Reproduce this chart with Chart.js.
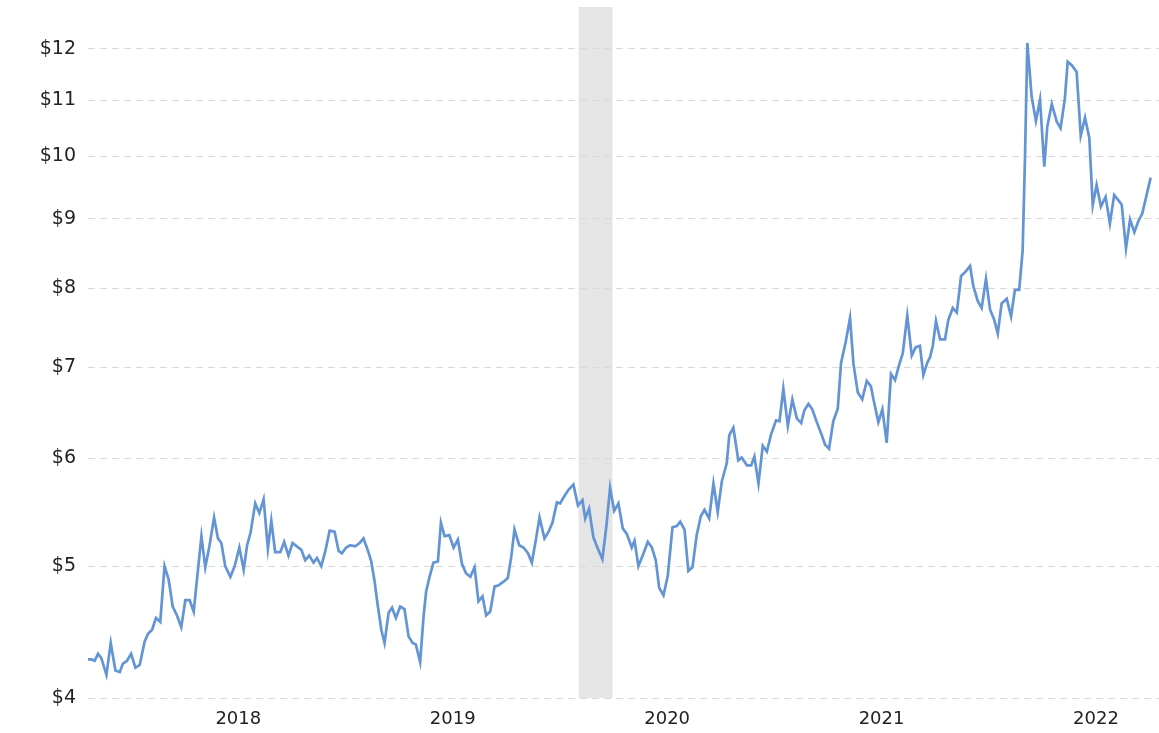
<!DOCTYPE html>
<html>
<head>
<meta charset="utf-8">
<title>Price chart</title>
<script src="https://cdn.jsdelivr.net/npm/chart.js@4.4.1/dist/chart.umd.min.js"></script>
<style>
  html, body { margin: 0; padding: 0; background: #fff; }
  #wrap { width: 1159px; height: 733px; position: relative; }
</style>
</head>
<body>
<div id="wrap"><canvas id="chart"></canvas></div>
<script>
// weekly observations, x as decimal year
const years = [
  2017.299, 2017.315, 2017.330, 2017.346, 2017.361, 2017.385, 2017.405, 2017.427, 2017.447, 2017.462,
  2017.481, 2017.500, 2017.520, 2017.540, 2017.563, 2017.579, 2017.598, 2017.616, 2017.636, 2017.656,
  2017.675, 2017.694, 2017.714, 2017.734, 2017.753, 2017.773, 2017.792, 2017.812, 2017.828, 2017.846,
  2017.866, 2017.887, 2017.905, 2017.921, 2017.939, 2017.963, 2017.983, 2018.005, 2018.025, 2018.041,
  2018.057, 2018.079, 2018.098, 2018.118, 2018.138, 2018.154, 2018.172, 2018.196, 2018.214, 2018.234,
  2018.253, 2018.273, 2018.294, 2018.312, 2018.331, 2018.351, 2018.367, 2018.387, 2018.406, 2018.426,
  2018.449, 2018.468, 2018.483, 2018.503, 2018.522, 2018.545, 2018.566, 2018.584, 2018.605, 2018.620,
  2018.635, 2018.651, 2018.667, 2018.682, 2018.701, 2018.717, 2018.735, 2018.755, 2018.775, 2018.794,
  2018.813, 2018.828, 2018.848, 2018.864, 2018.876, 2018.892, 2018.910, 2018.931, 2018.945, 2018.962,
  2018.984, 2019.004, 2019.024, 2019.043, 2019.062, 2019.082, 2019.102, 2019.120, 2019.139, 2019.156,
  2019.175, 2019.195, 2019.214, 2019.237, 2019.257, 2019.273, 2019.288, 2019.310, 2019.330, 2019.351,
  2019.369, 2019.388, 2019.405, 2019.428, 2019.447, 2019.465, 2019.486, 2019.501, 2019.521, 2019.540,
  2019.563, 2019.584, 2019.605, 2019.618, 2019.636, 2019.656, 2019.677, 2019.698, 2019.716, 2019.734,
  2019.753, 2019.773, 2019.793, 2019.812, 2019.835, 2019.848, 2019.866, 2019.890, 2019.910, 2019.929,
  2019.947, 2019.963, 2019.983, 2020.003, 2020.025, 2020.045, 2020.061, 2020.081, 2020.099, 2020.118,
  2020.138, 2020.157, 2020.174, 2020.196, 2020.216, 2020.236, 2020.255, 2020.278, 2020.290, 2020.309,
  2020.332, 2020.348, 2020.372, 2020.392, 2020.407, 2020.426, 2020.446, 2020.465, 2020.485, 2020.508,
  2020.524, 2020.542, 2020.563, 2020.584, 2020.605, 2020.625, 2020.640, 2020.659, 2020.677, 2020.698,
  2020.718, 2020.737, 2020.755, 2020.775, 2020.796, 2020.811, 2020.833, 2020.853, 2020.869, 2020.889,
  2020.910, 2020.931, 2020.950, 2020.966, 2020.985, 2021.004, 2021.024, 2021.044, 2021.063, 2021.082,
  2021.099, 2021.120, 2021.141, 2021.159, 2021.179, 2021.195, 2021.214, 2021.226, 2021.239, 2021.254,
  2021.273, 2021.296, 2021.311, 2021.332, 2021.351, 2021.371, 2021.389, 2021.413, 2021.428, 2021.449,
  2021.467, 2021.487, 2021.506, 2021.525, 2021.542, 2021.560, 2021.584, 2021.604, 2021.622, 2021.642,
  2021.658, 2021.669, 2021.680, 2021.700, 2021.720, 2021.739, 2021.759, 2021.773, 2021.794, 2021.817,
  2021.835, 2021.855, 2021.868, 2021.887, 2021.910, 2021.929, 2021.949, 2021.969, 2021.985, 2022.003,
  2022.023, 2022.045, 2022.065, 2022.085, 2022.104, 2022.120, 2022.140, 2022.159, 2022.179, 2022.197,
  2022.216, 2022.255
];

const prices = [
  4.27, 4.27, 4.26, 4.31, 4.28, 4.16, 4.39, 4.19, 4.18, 4.24,
  4.26, 4.31, 4.21, 4.23, 4.40, 4.46, 4.49, 4.58, 4.55, 5.00,
  4.89, 4.67, 4.60, 4.51, 4.72, 4.72, 4.63, 4.97, 5.26, 4.99,
  5.18, 5.43, 5.24, 5.20, 5.00, 4.91, 5.00, 5.16, 4.97, 5.18,
  5.29, 5.56, 5.47, 5.60, 5.15, 5.40, 5.12, 5.12, 5.21, 5.09,
  5.20, 5.17, 5.14, 5.05, 5.09, 5.03, 5.07, 5.00, 5.13, 5.31,
  5.30, 5.13, 5.11, 5.16, 5.18, 5.17, 5.20, 5.24, 5.13, 5.04,
  4.88, 4.67, 4.49, 4.39, 4.62, 4.66, 4.58, 4.67, 4.65, 4.44,
  4.39, 4.38, 4.25, 4.59, 4.79, 4.91, 5.03, 5.04, 5.38, 5.26,
  5.27, 5.16, 5.23, 5.02, 4.94, 4.91, 4.99, 4.71, 4.75, 4.60,
  4.63, 4.83, 4.84, 4.87, 4.90, 5.08, 5.32, 5.18, 5.16, 5.11,
  5.03, 5.23, 5.43, 5.24, 5.30, 5.38, 5.57, 5.56, 5.63, 5.69,
  5.74, 5.54, 5.59, 5.42, 5.51, 5.25, 5.15, 5.06, 5.34, 5.71,
  5.49, 5.56, 5.33, 5.28, 5.16, 5.22, 5.00, 5.11, 5.21, 5.16,
  5.05, 4.82, 4.76, 4.92, 5.34, 5.35, 5.39, 5.32, 4.96, 4.99,
  5.27, 5.44, 5.50, 5.42, 5.75, 5.48, 5.77, 5.95, 6.24, 6.32,
  5.98, 6.01, 5.93, 5.93, 6.02, 5.75, 6.13, 6.07, 6.25, 6.40,
  6.39, 6.75, 6.34, 6.63, 6.42, 6.37, 6.51, 6.58, 6.52, 6.38,
  6.26, 6.14, 6.10, 6.39, 6.53, 7.05, 7.31, 7.61, 7.04, 6.71,
  6.63, 6.84, 6.78, 6.59, 6.38, 6.52, 6.16, 6.92, 6.85, 7.03,
  7.17, 7.64, 7.14, 7.24, 7.26, 6.91, 7.06, 7.12, 7.26, 7.57,
  7.34, 7.34, 7.58, 7.74, 7.68, 8.17, 8.22, 8.31, 8.03, 7.83,
  7.74, 8.13, 7.72, 7.59, 7.41, 7.80, 7.86, 7.63, 7.98, 7.98,
  8.53, 9.98, 12.12, 11.07, 10.62, 11.01, 9.83, 10.52, 10.93, 10.61,
  10.49, 11.03, 11.74, 11.67, 11.54, 10.36, 10.68, 10.32, 9.21, 9.53,
  9.19, 9.34, 8.93, 9.37, 9.29, 9.22, 8.56, 8.99, 8.80, 8.96,
  9.08, 9.65
];

const yearTicks = [2018, 2019, 2020, 2021, 2022];
const priceTicks = [4, 5, 6, 7, 8, 9, 10, 11, 12];

// grey band
const shadeStart = 2019.587;
const shadeEnd = 2019.745;

const shadePlugin = {
  id: "shade",
  beforeDraw(chart) {
    const { ctx, chartArea, scales } = chart;
    const x1 = scales.x.getPixelForValue(shadeStart);
    const x2 = scales.x.getPixelForValue(shadeEnd);
    ctx.save();
    ctx.fillStyle = "#e5e5e5";
    ctx.fillRect(x1, chartArea.top, x2 - x1, chartArea.bottom - chartArea.top);
    ctx.restore();
  },
};

const points = years.map((yr, i) => ({ x: yr, y: prices[i] }));

new Chart(document.getElementById("chart"), {
  type: "line",
  data: {
    datasets: [
      {
        data: points,
        borderColor: "rgb(99, 148, 212)",
        borderWidth: 2.7,
        pointRadius: 0,
        tension: 0,
        fill: false,
      },
    ],
  },
  options: {
    responsive: true,
    maintainAspectRatio: false,
    animation: false,
    layout: { padding: { top: 7, right: 0, bottom: 0, left: 0 } },
    plugins: {
      legend: { display: false },
      tooltip: { enabled: false },
    },
    scales: {
      x: {
        type: "linear",
        min: 2017.299,
        max: 2022.294,
        afterBuildTicks: (scale) => {
          scale.ticks = yearTicks.map((v) => ({ value: v }));
        },
        afterFit: (scale) => {
          scale.height = 35;
          scale.paddingLeft = 0;
          scale.paddingRight = 0;
        },
        grid: { display: false, drawTicks: false },
        border: { display: false },
        ticks: {
          padding: 11,
          color: "#222",
          font: { family: "DejaVu Sans", size: 18 },
          callback: (v) => String(v),
          maxRotation: 0,
        },
      },
      y: {
        type: "logarithmic",
        min: 4,
        max: 12.88,
        afterBuildTicks: (scale) => {
          scale.ticks = priceTicks.map((v) => ({ value: v }));
        },
        afterFit: (scale) => {
          scale.width = 88;
          scale.paddingTop = 0;
          scale.paddingBottom = 0;
        },
        grid: {
          color: "#d9d9d9",
          lineWidth: 1,
          drawTicks: false,
        },
        border: { display: false, dash: [7, 5] },
        ticks: {
          padding: 12,
          color: "#222",
          font: { family: "DejaVu Sans", size: 19 },
          callback: (v) => "$" + v,
        },
      },
    },
  },
  plugins: [shadePlugin],
});
</script>
</body>
</html>
